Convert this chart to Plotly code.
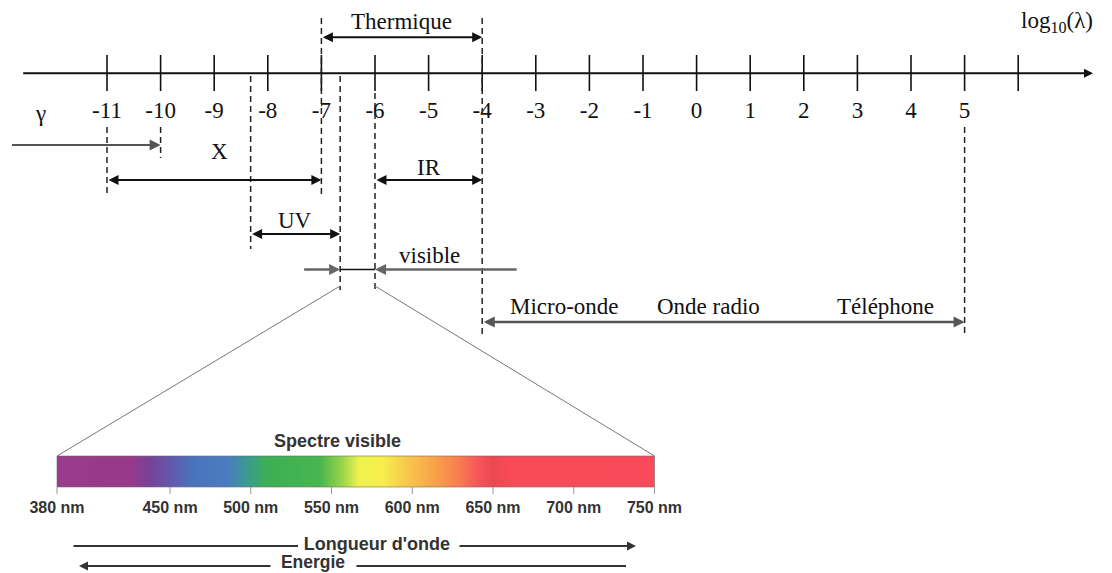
import plotly.graph_objects as go

# ---------------- data ----------------
tick_values = [-11, -10, -9, -8, -7, -6, -5, -4, -3, -2, -1, 0, 1, 2, 3, 4, 5, 6]
labelled_ticks = [-11, -10, -9, -8, -7, -6, -5, -4, -3, -2, -1, 0, 1, 2, 3, 4, 5]
tick_labels = ["-11", "-10", "-9", "-8", "-7", "-6", "-5", "-4", "-3", "-2", "-1",
               "0", "1", "2", "3", "4", "5"]

gamma_range = [-12.8, -10.0]
xray_range = [-11.0, -7.0]
uv_range = [-8.32, -6.65]
visible_range = [-6.65, -6.0]
ir_range = [-6.0, -4.0]
thermique_range = [-7.0, -4.0]
radio_range = [-4.0, 5.0]
visible_pointer_ends = [-7.35, -3.33]

radio_labels = ["Micro-onde", "Onde radio", "Téléphone"]
radio_label_x = [-2.47, 0.23, 3.52]

spectrum_nm_ticks = [380, 450, 500, 550, 600, 650, 700, 750]
spectrum_nm_labels = [f"{v} nm" for v in spectrum_nm_ticks]

# ---------------- layout / styles ----------------
W, H = 1112, 573
PX_PER_DECADE = 53.6
PX_ZERO = 696.6
x_rng = [(0 - PX_ZERO) / PX_PER_DECADE, (W - PX_ZERO) / PX_PER_DECADE]

BAR_LEFT_PX, BAR_RIGHT_PX = 57.0, 654.5
px_per_nm = (BAR_RIGHT_PX - BAR_LEFT_PX) / (spectrum_nm_ticks[-1] - spectrum_nm_ticks[0])
x2_rng = [spectrum_nm_ticks[0] - BAR_LEFT_PX / px_per_nm,
          spectrum_nm_ticks[0] + (W - BAR_LEFT_PX) / px_per_nm]

Y = dict(axis=73.3, tick_top=55, tick_bot=91, tick_label=112,
         therm_arrow=37.3, therm_label=21, gamma_arrow=145, gamma_label=113,
         x_arrow=180, x_label=151, ir_label=167, uv_arrow=234, uv_label=220,
         vis_line=269.5, vis_label=255, radio_arrow=322, radio_label=306,
         log_label=22, zoom_top=286, bar_top=456, bar_bot=487, bar_tick=494,
         nm_label=509, spectre=441, longueur=546, energie=566)

spectrum_colorscale = [
    [0.000, "#9a3a8a"], [0.125, "#973a8a"], [0.150, "#7a4096"], [0.190, "#6258ac"],
    [0.225, "#4a72bc"], [0.285, "#4a7cc0"], [0.318, "#3a9a90"], [0.350, "#3cae56"],
    [0.440, "#48b64e"], [0.478, "#9cd44a"], [0.505, "#eef24c"], [0.545, "#f6ee4c"],
    [0.585, "#f8c84c"], [0.635, "#f8a048"], [0.675, "#f87a52"], [0.705, "#f4565a"],
    [0.728, "#ec4852"], [0.760, "#f84a58"], [1.000, "#f84a5a"],
]

SERIF = dict(family="Liberation Serif, Times New Roman, serif", size=23, color="#111")
SANS_B = dict(family="Liberation Sans, Arial, sans-serif", color="#333", weight="bold")


def log_to_paper(v):
    return (v - x_rng[0]) / (x_rng[1] - x_rng[0])


def nm_to_paper(v):
    return (v - x2_rng[0]) / (x2_rng[1] - x2_rng[0])


def px_to_nm(px):
    return spectrum_nm_ticks[0] + (px - BAR_LEFT_PX) / px_per_nm


fig = go.Figure()

# tick marks of the log axis
tx, ty = [], []
for v in tick_values:
    tx += [v, v, None]
    ty += [Y["tick_top"], Y["tick_bot"], None]
fig.add_trace(go.Scatter(x=tx, y=ty, mode="lines", line=dict(color="#111", width=1.6),
                         hoverinfo="skip", showlegend=False))

# tick labels
fig.add_trace(go.Scatter(x=labelled_ticks, y=[Y["tick_label"]] * len(labelled_ticks),
                         mode="text", text=tick_labels, textfont=SERIF,
                         hoverinfo="skip", showlegend=False))

# dashed guide lines
guides = [
    (xray_range[0], 127, 197),
    (gamma_range[1], 127, 158),
    (uv_range[0], 76, 249),
    (xray_range[1], 18, 197),
    (visible_range[0], 76, 290),
    (visible_range[1], 93, 290),
    (thermique_range[1], 18, 337),
    (radio_range[1], 127, 336),
]
gx, gy = [], []
for v, y0, y1 in guides:
    gx += [v, v, None]
    gy += [y0, y1, None]
fig.add_trace(go.Scatter(x=gx, y=gy, mode="lines",
                         line=dict(color="#222", width=1.5, dash="6px,4px"),
                         hoverinfo="skip", showlegend=False))

# visible short segment
fig.add_trace(go.Scatter(x=visible_range, y=[Y["vis_line"]] * 2, mode="lines",
                         line=dict(color="#111", width=1.5),
                         hoverinfo="skip", showlegend=False))

# spectrum bar with gradient (nm axis)
n0, n1 = spectrum_nm_ticks[0], spectrum_nm_ticks[-1]
fig.add_trace(go.Scatter(
    x=[n0, n1, n1, n0, n0],
    y=[Y["bar_top"], Y["bar_top"], Y["bar_bot"], Y["bar_bot"], Y["bar_top"]],
    xaxis="x2", yaxis="y", mode="lines", fill="toself",
    fillgradient=dict(type="horizontal", colorscale=spectrum_colorscale),
    line=dict(color="rgba(110,110,110,0.6)", width=1),
    hoverinfo="skip", showlegend=False))

# spectrum ticks
sx, sy = [], []
for v in spectrum_nm_ticks:
    sx += [v, v, None]
    sy += [Y["bar_bot"], Y["bar_tick"], None]
fig.add_trace(go.Scatter(x=sx, y=sy, xaxis="x2", yaxis="y", mode="lines",
                         line=dict(color="#999", width=1),
                         hoverinfo="skip", showlegend=False))
fig.add_trace(go.Scatter(x=spectrum_nm_ticks, y=[Y["nm_label"]] * len(spectrum_nm_ticks),
                         xaxis="x2", yaxis="y", mode="text", text=spectrum_nm_labels,
                         textfont=dict(SANS_B, size=16),
                         hoverinfo="skip", showlegend=False))

# bottom captions as text marks on the nm axis
fig.add_trace(go.Scatter(x=[px_to_nm(377)], y=[Y["longueur"] - 1], xaxis="x2", yaxis="y",
                         mode="text", text=["Longueur d'onde"],
                         textfont=dict(SANS_B, size=18),
                         hoverinfo="skip", showlegend=False))
fig.add_trace(go.Scatter(x=[px_to_nm(313)], y=[Y["energie"] - 2.5], xaxis="x2", yaxis="y",
                         mode="text", text=["Energie"],
                         textfont=dict(SANS_B, size=17.5),
                         hoverinfo="skip", showlegend=False))

annotations = []


def arrow(x_head, x_tail, y, color="#111", width=2.0, both=True, size=1.0, ref="x"):
    annotations.append(dict(
        x=x_head, y=y, ax=x_tail, ay=y, xref=ref, yref="y", axref=ref, ayref="y",
        text="", showarrow=True, arrowhead=2, startarrowhead=2,
        arrowside="end+start" if both else "end",
        arrowsize=size, startarrowsize=size, arrowwidth=width, arrowcolor=color,
        standoff=0, startstandoff=0))


def label(x, y, text, font, ref="x", **kw):
    annotations.append(dict(x=x, y=y, xref=ref, yref="y", text=text, showarrow=False,
                            font=font, xanchor="center", yanchor="middle", **kw))


# main axis arrow
arrow((1093 - PX_ZERO) / PX_PER_DECADE, (21.7 - PX_ZERO) / PX_PER_DECADE, Y["axis"],
      color="#111", width=2.0, both=False, size=0.9)

# band arrows
arrow(thermique_range[1], thermique_range[0], Y["therm_arrow"])
arrow(gamma_range[1], gamma_range[0], Y["gamma_arrow"], color="#555", width=2.2, both=False)
arrow(xray_range[1], xray_range[0], Y["x_arrow"])
arrow(ir_range[1], ir_range[0], Y["x_arrow"])
arrow(uv_range[1], uv_range[0], Y["uv_arrow"])
arrow(visible_range[0], visible_pointer_ends[0], Y["vis_line"], color="#666", width=2.6, both=False, size=0.85)
arrow(visible_range[1], visible_pointer_ends[1], Y["vis_line"], color="#666", width=2.6, both=False, size=0.85)
arrow(radio_range[1], radio_range[0], Y["radio_arrow"], color="#555", width=2.6, size=0.85)

# text labels, top part
label(sum(thermique_range) / 2, Y["therm_label"], "Thermique", SERIF)
label(-12.25, Y["gamma_label"], "γ", SERIF)
label(-8.91, Y["x_label"], "X", SERIF)
label(sum(ir_range) / 2, Y["ir_label"], "IR", SERIF)
label(sum(uv_range) / 2, Y["uv_label"], "UV", SERIF)
label(-4.99, Y["vis_label"], "visible", SERIF)
for t, xv in zip(radio_labels, radio_label_x):
    label(xv, Y["radio_label"], t, SERIF)
label(6.72, Y["log_label"], "log<sub>10</sub>(λ)", SERIF)

# bottom part
label(px_to_nm(337), Y["spectre"], "Spectre visible", dict(SANS_B, size=18), ref="x2")

# "Longueur d'onde" arrow (line, text, arrow)
annotations.append(dict(x=px_to_nm(298), y=Y["longueur"], ax=px_to_nm(72), ay=Y["longueur"],
                        xref="x2", yref="y", axref="x2", ayref="y", text="", showarrow=True,
                        arrowhead=0, arrowwidth=1.8, arrowcolor="#333", standoff=0))
arrow(px_to_nm(636), px_to_nm(458), Y["longueur"], color="#333", width=1.8, both=False, ref="x2")

# "Energie" arrow (arrow, text, line)
arrow(px_to_nm(79), px_to_nm(272), Y["energie"], color="#333", width=1.8, both=False, ref="x2")
annotations.append(dict(x=px_to_nm(626), y=Y["energie"], ax=px_to_nm(355), ay=Y["energie"],
                        xref="x2", yref="y", axref="x2", ayref="y", text="", showarrow=True,
                        arrowhead=0, arrowwidth=1.8, arrowcolor="#333", standoff=0))

# zoom lines from visible band to the spectrum bar
shapes = [
    dict(type="line", xref="paper", yref="y",
         x0=log_to_paper(visible_range[0]), y0=Y["zoom_top"],
         x1=nm_to_paper(spectrum_nm_ticks[0]), y1=Y["bar_top"],
         line=dict(color="#777", width=1)),
    dict(type="line", xref="paper", yref="y",
         x0=log_to_paper(visible_range[1]), y0=Y["zoom_top"],
         x1=nm_to_paper(spectrum_nm_ticks[-1]), y1=Y["bar_top"],
         line=dict(color="#777", width=1)),
]

fig.update_layout(
    width=W, height=H, autosize=False,
    margin=dict(l=0, r=0, t=0, b=0),
    paper_bgcolor="white", plot_bgcolor="white",
    xaxis=dict(range=x_rng, visible=False, fixedrange=True),
    xaxis2=dict(range=x2_rng, visible=False, overlaying="x", fixedrange=True),
    yaxis=dict(range=[H, 0], visible=False, fixedrange=True),
    annotations=annotations, shapes=shapes,
    showlegend=False, hovermode=False,
)

fig.write_html("out.html", config=dict(displayModeBar=False, staticPlot=True))
